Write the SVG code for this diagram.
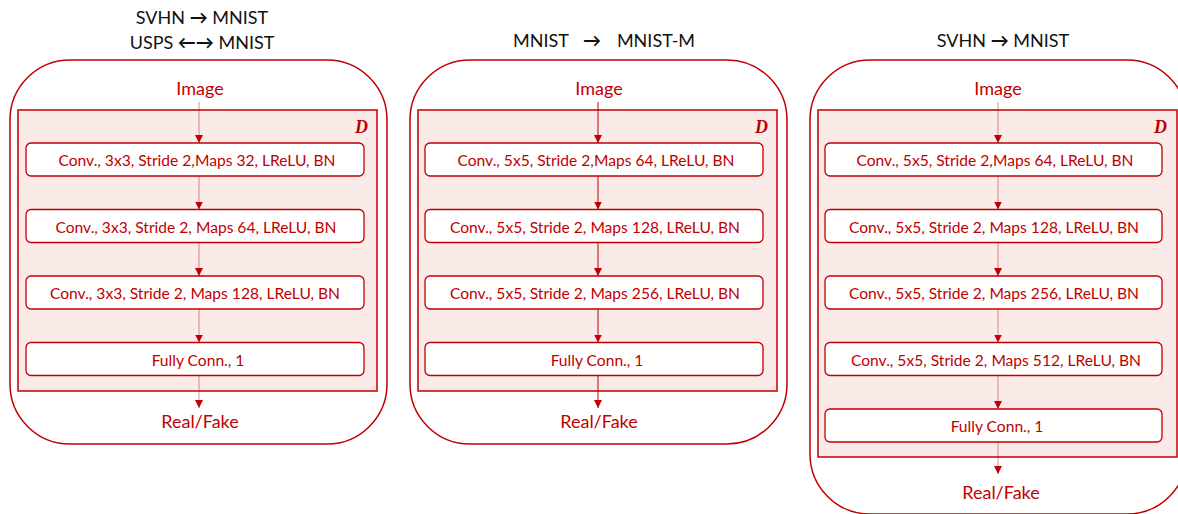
<svg xmlns="http://www.w3.org/2000/svg" width="1178" height="514" viewBox="0 0 1178 514">
  <style>
    .title { font-family: Lato, "Open Sans", sans-serif; font-size: 18px; fill: #111; text-anchor: middle; }
    .arr { font-weight: bold; }
    .outer { fill: #fff; stroke: #c00000; stroke-width: 1.5; }
    .disc { fill: #fbebe8; stroke: #c00000; stroke-width: 1.5; }
    .layer { fill: #fff; stroke: #c00000; stroke-width: 1.3; }
    .ltext { font-family: Lato, "Open Sans", sans-serif; font-size: 15.6px; fill: #c00000; text-anchor: middle; }
    .io { font-family: Lato, "Open Sans", sans-serif; font-size: 18px; fill: #c00000; text-anchor: middle; }
    .dlabel { font-family: "Liberation Serif", serif; font-size: 18px; font-style: italic; font-weight: bold; fill: #c00000; }
    .flow { stroke: #c00000; stroke-width: 1; fill: none; marker-end: url(#head); }
    .soft { stroke-opacity: 0.45; }
  </style>
  <defs>
    <marker id="head" viewBox="0 0 8 8" refX="8" refY="4" markerWidth="8" markerHeight="8" markerUnits="userSpaceOnUse" orient="auto">
      <path d="M0,0 L8,4 L0,8 Z" fill="#c00000"/>
    </marker>
  </defs>

  <!-- Column headings -->
  <g id="titles">
    <text class="title" x="202" y="24">SVHN <tspan class="arr">→</tspan> MNIST</text>
    <text class="title" x="202" y="49">USPS <tspan class="arr">←→</tspan> MNIST</text>
    <text class="title" x="541" y="47">MNIST</text>
    <text class="title" x="592" y="47"><tspan class="arr">→</tspan></text>
    <text class="title" x="656" y="47">MNIST-M</text>
    <text class="title" x="1003" y="47">SVHN <tspan class="arr">→</tspan> MNIST</text>
  </g>

  <!-- Discriminator A: 3x3 kernels -->
  <g id="netA">
    <rect class="outer" x="10" y="60" width="377" height="384" rx="60"/>
    <rect class="disc" x="18" y="110" width="359" height="281"/>
    <text class="dlabel" x="355" y="133">D</text>
    <text class="io" x="200" y="95">Image</text>
    <text class="io" x="200" y="428">Real/Fake</text>
  </g>
  <g id="netA_l1"><rect class="layer" x="26" y="143" width="338" height="33" rx="5"/><text class="ltext" x="197" y="166">Conv., 3x3, Stride 2,Maps 32, LReLU, BN</text></g>
  <g id="netA_l2"><rect class="layer" x="26" y="209.5" width="338" height="33" rx="5"/><text class="ltext" x="196" y="232.5">Conv., 3x3, Stride 2, Maps 64, LReLU, BN</text></g>
  <g id="netA_l3"><rect class="layer" x="26" y="276" width="338" height="33" rx="5"/><text class="ltext" x="195" y="299">Conv., 3x3, Stride 2, Maps 128, LReLU, BN</text></g>
  <g id="netA_l4"><rect class="layer" x="26" y="342.5" width="338" height="33" rx="5"/><text class="ltext" x="198" y="365.5">Fully Conn., 1</text></g>

  <!-- Discriminator B: 5x5 kernels, three conv layers -->
  <g id="netB">
    <rect class="outer" x="410" y="60" width="377" height="384" rx="60"/>
    <rect class="disc" x="418" y="110" width="359" height="281"/>
    <text class="dlabel" x="755" y="133">D</text>
    <text class="io" x="599" y="95">Image</text>
    <text class="io" x="599" y="428">Real/Fake</text>
  </g>
  <g id="netB_l1"><rect class="layer" x="425" y="143" width="338" height="33" rx="5"/><text class="ltext" x="596" y="166">Conv., 5x5, Stride 2,Maps 64, LReLU, BN</text></g>
  <g id="netB_l2"><rect class="layer" x="425" y="209.5" width="338" height="33" rx="5"/><text class="ltext" x="595" y="232.5">Conv., 5x5, Stride 2, Maps 128, LReLU, BN</text></g>
  <g id="netB_l3"><rect class="layer" x="425" y="276" width="338" height="33" rx="5"/><text class="ltext" x="595" y="299">Conv., 5x5, Stride 2, Maps 256, LReLU, BN</text></g>
  <g id="netB_l4"><rect class="layer" x="425" y="342.5" width="338" height="33" rx="5"/><text class="ltext" x="597" y="365.5">Fully Conn., 1</text></g>

  <!-- Discriminator C: 5x5 kernels, four conv layers -->
  <g id="netC">
    <rect class="outer" x="810" y="60" width="377" height="454" rx="60"/>
    <rect class="disc" x="818" y="110" width="359" height="347"/>
    <text class="dlabel" x="1154" y="133">D</text>
    <text class="io" x="998" y="95">Image</text>
    <text class="io" x="1001" y="499">Real/Fake</text>
  </g>
  <g id="netC_l1"><rect class="layer" x="825" y="143" width="337" height="33" rx="5"/><text class="ltext" x="995" y="166">Conv., 5x5, Stride 2,Maps 64, LReLU, BN</text></g>
  <g id="netC_l2"><rect class="layer" x="825" y="209.5" width="337" height="33" rx="5"/><text class="ltext" x="994" y="232.5">Conv., 5x5, Stride 2, Maps 128, LReLU, BN</text></g>
  <g id="netC_l3"><rect class="layer" x="825" y="276" width="337" height="33" rx="5"/><text class="ltext" x="994" y="299">Conv., 5x5, Stride 2, Maps 256, LReLU, BN</text></g>
  <g id="netC_l4"><rect class="layer" x="825" y="342.5" width="337" height="33" rx="5"/><text class="ltext" x="996" y="365.5">Conv., 5x5, Stride 2, Maps 512, LReLU, BN</text></g>
  <g id="netC_l5"><rect class="layer" x="825" y="409" width="337" height="33" rx="5"/><text class="ltext" x="997" y="432">Fully Conn., 1</text></g>

  <!-- Data flow arrows -->
  <g id="connectors">
    <line class="flow soft" x1="199" y1="102" x2="199" y2="143"/>
    <line class="flow soft" x1="199" y1="176" x2="199" y2="209.5"/>
    <line class="flow soft" x1="199" y1="242.5" x2="199" y2="276"/>
    <line class="flow soft" x1="199" y1="309" x2="199" y2="342.5"/>
    <line class="flow soft" x1="199" y1="375.5" x2="199" y2="408"/>

    <line class="flow" x1="598" y1="102" x2="598" y2="143"/>
    <line class="flow" x1="598" y1="176" x2="598" y2="209.5"/>
    <line class="flow" x1="598" y1="242.5" x2="598" y2="276"/>
    <line class="flow" x1="598" y1="309" x2="598" y2="342.5"/>
    <line class="flow" x1="598" y1="375.5" x2="598" y2="408"/>

    <line class="flow soft" x1="998" y1="102" x2="998" y2="143"/>
    <line class="flow soft" x1="998" y1="176" x2="998" y2="209.5"/>
    <line class="flow soft" x1="998" y1="242.5" x2="998" y2="276"/>
    <line class="flow soft" x1="998" y1="309" x2="998" y2="342.5"/>
    <line class="flow soft" x1="998" y1="375.5" x2="998" y2="409"/>
    <line class="flow soft" x1="998" y1="442" x2="998" y2="474"/>
  </g>
</svg>
